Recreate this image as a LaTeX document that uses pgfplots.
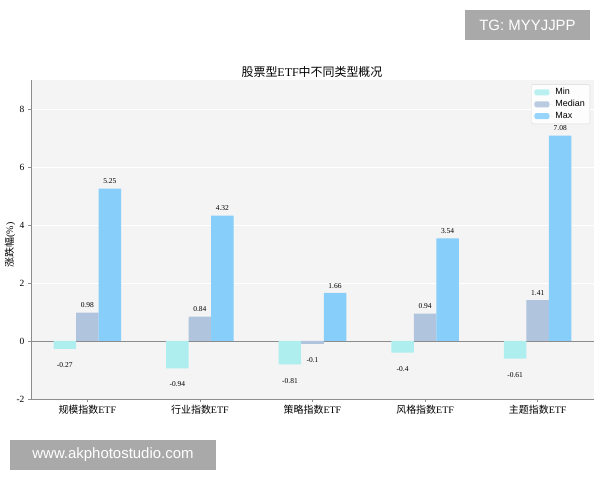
\documentclass[border=0pt]{standalone}
\usepackage{fontspec}
\setmainfont{Liberation Serif}
\newfontfamily\cjk{Noto Sans CJK SC}
\newfontfamily\sans{Liberation Sans}
\usepackage{pgfplots}
\pgfplotsset{compat=1.18}

\definecolor{minc}{HTML}{AFEEEE}
\definecolor{medc}{HTML}{B0C4DE}
\definecolor{maxc}{HTML}{87CEFA}
\definecolor{bgc}{HTML}{F4F4F4}
\definecolor{spine}{HTML}{8C8C8C}
\definecolor{wm}{HTML}{A9A9A9}

\begin{document}
\begin{tikzpicture}
% page frame, 1bp = 1px of the reference
\path (0,0) rectangle (600bp,480bp);

\begin{axis}[
    at={(31bp,81bp)}, anchor=south west,
    scale only axis, width=563bp, height=319bp,
    ybar, bar width=0.2,
    xmin=-0.5, xmax=4.5, ymin=-2, ymax=9,
    xtick={0,1,2,3,4},
    xticklabels={{\cjk 规模指数}ETF,{\cjk 行业指数}ETF,{\cjk 策略指数}ETF,{\cjk 风格指数}ETF,{\cjk 主题指数}ETF},
    ytick={-2,0,2,4,6,8},
    axis x line*=bottom, axis y line*=left,
    axis line style={spine, line width=0.8pt},
    tick style={spine, line width=0.8pt},
    tick align=outside, major tick length=3bp,
    ticklabel style={font=\fontsize{9.5}{11}\selectfont},
    xticklabel style={font=\fontsize{10}{12}\selectfont, yshift=0bp},
    /pgf/number format/assume math mode=true,
    axis background/.style={fill=bgc},
    ymajorgrids, major grid style={white, line width=0.8pt},
    nodes near coords,
    nodes near coords align=vertical,
    visualization depends on={y \as \rawy},
    every node near coord/.append style={font=\fontsize{7.5}{8}\selectfont, inner sep=1.5bp,
        yshift={(\rawy<0)*(-15)+3}},
    legend style={at={(0.993,0.987)}, anchor=north east,
        draw=black!15, fill=white, fill opacity=0.85, text opacity=1,
        rounded corners=2pt, font=\sans\fontsize{9}{10}\selectfont,
        row sep=0pt, inner xsep=3bp, inner ysep=2bp},
    legend cell align=left,
    legend image code/.code={\fill[#1] (0bp,-3bp) rectangle (15bp,3bp); \path (0bp,0bp) -- (19bp,0bp);},
]
\draw[spine, line width=0.8pt] (axis cs:-0.5,0) -- (axis cs:4.5,0);
\addplot[fill=minc, draw=none, bar shift=-0.2] coordinates {(0,-0.27) (1,-0.94) (2,-0.81) (3,-0.4) (4,-0.61)};
\addlegendentry{Min}
\addplot[fill=medc, draw=none, bar shift=0] coordinates {(0,0.98) (1,0.84) (2,-0.1) (3,0.94) (4,1.41)};
\addlegendentry{Median}
\addplot[fill=maxc, draw=none, bar shift=0.2] coordinates {(0,5.25) (1,4.32) (2,1.66) (3,3.54) (4,7.08)};
\addlegendentry{Max}
\end{axis}

\node[font=\fontsize{12}{14}\selectfont] at (312bp,408bp) {{\cjk 股票型}ETF{\cjk 中不同类型概况}};
\node[rotate=90, font=\fontsize{10}{12}\selectfont] at (10bp,235bp) {{\cjk 涨跌幅}(\%)};

% watermarks
\node[fill=wm, text=white, font=\sans\fontsize{15}{18}\selectfont, minimum width=125bp, minimum height=30bp, inner sep=0pt] at (527.5bp,455bp) {TG: MYYJJPP};
\node[fill=wm, text=white, font=\sans\fontsize{15}{18}\selectfont, minimum width=206bp, minimum height=30bp, inner sep=0pt] at (113bp,25bp) {www.akphotostudio.com};
\end{tikzpicture}
\end{document}
